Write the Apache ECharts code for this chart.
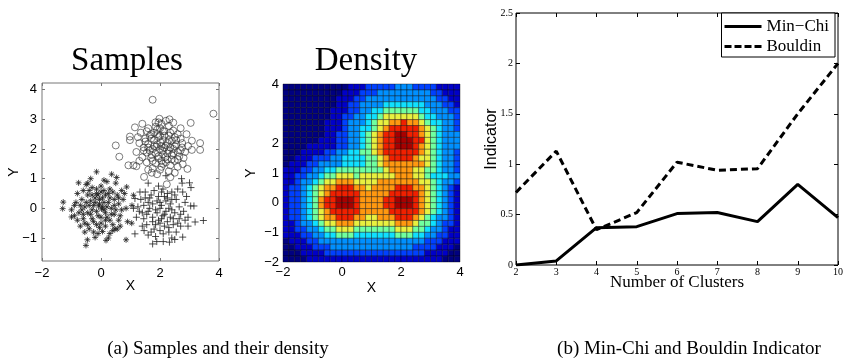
<!DOCTYPE html>
<html>
<head>
<meta charset="utf-8">
<script src="https://cdn.jsdelivr.net/npm/echarts@6/dist/echarts.min.js"></script>
<style>
  html, body { margin: 0; padding: 0; background: #fff; }
  #chart { width: 848px; height: 364px; }
</style>
</head>
<body>
<div id="chart"></div>
<script>
// ---- Samples: three clusters of 2-D points ----
const starPoints = [
  [-0.51,-1.25],[-1.28,0.21],[-1.3,-0.01],[-1.0,-0.29],[-0.9,-0.25],[-0.76,0.86],[-0.15,1.23],[0.36,1.15],
  [0.53,1.04],[0.17,-1.08],[0.85,-1.06],[0.47,-0.69],[-0.46,-1.06],[-0.4,-0.69],[1.04,-0.5],[1.1,0.44],
  [0.87,0.72],[-0.5,0.8],[0.55,0.45],[0.8,0.5],[-0.8,0.5],[-0.9,0.1],[0.9,-0.45],[1.05,0.1],[-0.2,-0.98],
  [-0.6,0.6],[-0.3,0.7],[0.0,0.75],[0.3,0.65],[-0.45,0.45],[-0.15,0.5],[0.15,0.45],[0.45,0.3],[-0.65,0.3],
  [-0.35,0.25],[-0.05,0.3],[0.25,0.2],[0.6,0.15],[-0.55,0.05],[-0.25,0.1],[0.05,0.05],[0.35,0.0],[0.7,-0.05],
  [-0.75,-0.15],[-0.45,-0.15],[-0.15,-0.1],[0.15,-0.15],[0.45,-0.2],[-0.6,-0.35],[-0.3,-0.35],[0.0,-0.3],
  [0.3,-0.4],[0.6,-0.4],[-0.45,-0.55],[-0.15,-0.55],[0.15,-0.6],[0.4,-0.55],[-0.25,-0.8],[0.05,-0.78],
  [0.3,-0.85],[-0.05,0.15],[0.1,0.2],[-0.1,-0.25],[0.2,0.05],[-0.2,0.35],[0.4,0.55],[-0.4,0.6],[0.55,-0.7],
  [-0.7,-0.6],[-0.85,0.2],[0.75,0.3],[0.65,-0.25],[-0.3,-0.05],[0.1,0.6],[0.0,-0.5],[-0.55,-0.8],[0.25,-1.0],
  [0.85,0.0],[-1.0,-0.05],[-0.35,1.0],[0.2,0.9],[-0.65,-0.05],[0.5,0.85],[0.02,-0.02],[-0.08,0.08],
  [-0.2,0.2],[0.1,-0.05],[-0.35,-0.2],[0.3,0.35],[-0.5,0.2],[0.2,-0.3],[-0.1,0.45],[0.45,0.1],[-0.6,-0.2],
  [0.05,0.35],[-0.25,-0.45],[0.35,-0.2],[-0.15,0.65],[0.5,-0.05],[-0.4,0.1],[0.0,0.55],[-0.7,0.1],[0.15,-0.4],
  [-0.05,-0.65],[0.25,0.5],[-0.3,0.45],[0.6,0.35],[-0.55,-0.5],[0.4,-0.75],[-0.8,-0.4],[0.7,0.6],[-0.1,-0.85],
  [0.1,0.95],[-0.45,0.85],[0.65,-0.6]
];
const plusPoints = [
  [1.89,-1.12],[2.11,-1.12],[2.32,-1.14],[2.11,-0.86],[2.77,-0.97],[3.04,0.08],[3.15,0.08],[3.47,-0.41],
  [3.19,-0.46],[3.0,0.86],[2.73,1.0],[2.77,0.55],[1.15,-0.86],[1.46,-0.75],[1.32,0.55],[1.15,0.33],
  [1.75,-1.2],[2.5,-1.05],[3.05,0.7],[2.95,-0.3],[1.2,-0.3],[1.1,0.0],[1.6,0.85],[2.2,1.1],[2.9,0.4],
  [1.5,0.55],[1.8,0.6],[2.1,0.65],[2.4,0.55],[1.35,0.3],[1.65,0.35],[1.95,0.4],[2.25,0.35],[2.55,0.3],
  [1.45,0.1],[1.75,0.15],[2.05,0.1],[2.35,0.15],[2.65,0.05],[1.3,-0.1],[1.6,-0.1],[1.9,-0.15],[2.2,-0.1],
  [2.5,-0.15],[2.8,-0.1],[1.45,-0.35],[1.75,-0.3],[2.05,-0.35],[2.35,-0.3],[2.65,-0.35],[1.55,-0.55],
  [1.85,-0.55],[2.15,-0.6],[2.45,-0.55],[2.7,-0.6],[1.7,-0.8],[2.0,-0.75],[2.3,-0.8],[2.55,-0.8],[1.9,0.25],
  [2.15,-0.2],[2.4,-0.05],[1.6,0.2],[2.0,-0.5],[2.25,0.5],[2.6,0.65],[1.4,-0.6],[2.85,0.2],[1.25,0.05],
  [2.95,-0.6],[1.85,-0.95],[2.4,-1.0],[2.75,0.85],[1.95,0.75],
  [1.7,0.45],[2.0,0.2],[2.3,0.0],[1.85,-0.05],[2.1,-0.25],[1.55,-0.2],[2.5,0.45],[2.2,0.25],[1.95,-0.4],
  [2.25,-0.45],[1.65,0.0],[2.45,-0.35],[1.8,-0.7],[2.6,-0.5],[2.05,0.55],[1.4,-0.15],[2.7,-0.2],[2.3,-0.65],
  [1.5,0.35],[2.4,0.3],[2.0,0.0],[1.75,-0.45],[2.15,0.4],[2.85,-0.4],[1.6,-0.9]
];
const ringPoints = [
  [3.81,3.19],[1.75,3.66],[3.04,2.88],[0.5,2.12],[0.62,1.74],[0.93,1.45],[1.46,1.06],[3.36,2.2],[3.36,1.97],
  [3.08,2.28],[3.08,1.97],[2.93,1.33],[2.77,1.49],[2.23,0.81],[1.72,1.2],[1.15,2.73],[0.98,2.42],[0.98,2.3],
  [1.98,3.02],[2.32,3.0],[2.45,2.89],[1.1,1.45],[1.2,1.42],[2.9,2.5],[2.75,2.2],[2.8,1.7],
  [1.85,2.9],[2.05,2.85],[2.3,2.78],[1.6,2.7],[1.9,2.65],[2.15,2.6],[2.45,2.62],[1.35,2.55],[1.7,2.5],
  [2.0,2.45],[2.3,2.45],[2.6,2.5],[1.5,2.35],[1.8,2.3],[2.1,2.3],[2.4,2.28],[2.7,2.35],[1.3,2.2],[1.6,2.18],
  [1.9,2.15],[2.2,2.12],[2.5,2.1],[2.75,2.05],[1.45,2.05],[1.75,2.0],[2.0,1.98],[2.3,1.95],[2.6,1.9],
  [1.55,1.88],[1.85,1.85],[2.1,1.82],[2.4,1.8],[2.65,1.75],[1.4,1.72],[1.7,1.7],[1.95,1.68],[2.25,1.65],
  [2.5,1.6],[1.55,1.55],[1.85,1.52],[2.1,1.5],[2.35,1.45],[2.6,1.4],[1.75,1.35],[2.0,1.3],[2.3,1.25],
  [1.9,1.15],[2.15,2.05],[1.95,2.4],[2.25,2.2],[1.65,1.95],[2.45,1.85],[2.05,1.6],[1.8,2.55],[2.55,2.3],
  [1.2,1.9],[1.25,2.4],[2.85,1.9],[2.0,2.7],[1.55,2.6],[2.35,1.05],[2.5,1.2],[1.3,1.6],[1.6,1.3],[2.7,2.7],
  [2.2,2.95],[1.4,2.85],[2.95,2.1],[2.1,1.95],[1.88,2.08],[2.35,2.05],[1.72,1.8],[2.18,1.72],[2.02,2.22],
  [1.8,2.1],[2.05,2.1],[2.3,2.3],[1.7,2.35],[2.15,2.45],[1.95,1.75],[2.25,1.85],[1.6,2.05],[2.45,2.0],
  [1.9,2.5],[2.1,2.6],[2.35,2.55],[1.75,1.6],[2.2,1.55],[2.55,2.15],[1.5,2.25],[1.85,2.75],[2.4,1.65],
  [2.6,1.65],[1.65,2.45],[2.05,1.4],[2.5,2.4],[1.45,1.95],[2.7,1.95],[1.95,2.9]
];

// ---- Density: 30 x 30 cells on [-2,4] x [-2,4], colour level 0..9, top row first ----
const densityRows = [
  "000000000001112222233322221111",
  "000000000011122233333333322111",
  "000000000111223333333333332211",
  "000000000112233334444444333221",
  "000000001112233445555554433322",
  "000000001122334456666665443332",
  "000000011123334566778776544332",
  "000000011123344567888887654332",
  "000000011223345678899887654333",
  "000000111223345678899988654333",
  "000011111223345678899987654333",
  "000111122334455678888887654332",
  "001112223344445567888876654332",
  "011122333344445567777777654332",
  "111223344555555556777766554332",
  "112233455666566666677766544433",
  "112334566777666677777776654332",
  "122345677888776777788877654321",
  "122345678888877777888887654321",
  "122345788999877778899987654321",
  "122345788999877778899987654321",
  "122345678888877777888887654321",
  "122345677888776677788876543321",
  "112334566777666666677765543221",
  "112233455666555555566655433211",
  "111223344555444444455544332211",
  "011122333333333333333333222111",
  "001112223333333333333322221110",
  "000111122222222222222222111100",
  "000011111111111111111111111000"
];
const densityLevelColors = ['#000080','#0000c8','#0040ff','#0090ff','#10e0ff','#70ffa0','#e8f040','#ff9810','#f02000','#a80000'];

// ---- Cluster validity indicators ----
const clusterCounts = [2, 3, 4, 5, 6, 7, 8, 9, 10];
const minChiValues  = [0.0, 0.04, 0.37, 0.38, 0.51, 0.52, 0.43, 0.80, 0.47];
const bouldinValues = [0.72, 1.13, 0.35, 0.52, 1.02, 0.94, 0.955, 1.50, 2.0];

// ---- tick label sets ----
const sampleYTicks = [-1, 0, 1, 2, 3, 4];
const densityYTicks = [-2, -1, 0, 1, 2, 4];

const SERIF = "'Liberation Serif', 'Times New Roman', serif";
const SANS = "'Liberation Sans', Arial, sans-serif";
const withMinus = v => String(v).replace('-', '\u2212');

// density cells: [left x, bottom y, level]
const CELL = 0.2;
const densityCells = [];
densityRows.forEach((row, i) => {
  const r = densityRows.length - 1 - i;
  for (let c = 0; c < row.length; c++) {
    densityCells.push([-2 + c * CELL, -2 + r * CELL, Number(row[c])]);
  }
});

const chart = echarts.init(document.getElementById('chart'));

const sansLabel = { fontFamily: SANS, fontSize: 13, color: '#000' };
const serifLabel = { fontFamily: SERIF, fontSize: 10, color: '#000' };
const noLine = { show: false, onZero: false };
const boxTick = (len, color) => ({ show: true, inside: true, length: len, lineStyle: { color: color, width: 1 } });

// legend glyphs: a solid bar and a dashed bar
const solidIcon = 'path://M0,0H37V3H0Z';
const dashedIcon = 'path://M0,0H7V3H0ZM10,0H17V3H10ZM20,0H27V3H20ZM30,0H37V3H30Z';

const option = {
  animation: false,
  backgroundColor: '#fff',
  grid: [
    { left: 42, top: 83, width: 177, height: 178, show: true, borderColor: '#777', borderWidth: 1 },
    { left: 283, top: 84, width: 177, height: 178, show: false },
    { left: 516, top: 13, width: 322, height: 252, show: true, borderColor: '#000', borderWidth: 1 }
  ],
  xAxis: [
    { gridIndex: 0, type: 'value', min: -2, max: 4, interval: 2, position: 'bottom',
      axisLine: noLine, axisTick: boxTick(3, '#777'), splitLine: { show: false },
      axisLabel: Object.assign({ margin: 6, formatter: withMinus }, sansLabel),
      name: 'X', nameLocation: 'middle', nameGap: 18, nameMoveOverlap: false,
      nameTextStyle: { fontFamily: SANS, fontSize: 14, color: '#000' } },
    { gridIndex: 0, type: 'value', min: -2, max: 4, interval: 2, position: 'top',
      axisLine: noLine, axisTick: boxTick(3, '#777'), splitLine: { show: false }, axisLabel: { show: false } },
    { gridIndex: 1, type: 'value', min: -2, max: 4, interval: 2, position: 'bottom',
      axisLine: noLine, axisTick: { show: false }, splitLine: { show: false },
      axisLabel: Object.assign({ margin: 4, formatter: withMinus }, sansLabel),
      name: 'X', nameLocation: 'middle', nameGap: 19, nameMoveOverlap: false,
      nameTextStyle: { fontFamily: SANS, fontSize: 14, color: '#000' } },
    { gridIndex: 2, type: 'value', min: 2, max: 10, interval: 1, position: 'bottom',
      axisLine: noLine, axisTick: boxTick(4, '#000'), splitLine: { show: false },
      axisLabel: Object.assign({ margin: 2 }, serifLabel),
      name: 'Number of Clusters', nameLocation: 'middle', nameGap: 9, nameMoveOverlap: false,
      nameTextStyle: { fontFamily: SERIF, fontSize: 17, color: '#000' } },
    { gridIndex: 2, type: 'value', min: 2, max: 10, interval: 1, position: 'top',
      axisLine: noLine, axisTick: boxTick(4, '#000'), splitLine: { show: false }, axisLabel: { show: false } }
  ],
  yAxis: [
    { gridIndex: 0, type: 'value', min: -1.775, max: 4.225, position: 'left',
      axisLine: noLine, axisTick: Object.assign(boxTick(3, '#777'), { customValues: sampleYTicks }),
      splitLine: { show: false },
      axisLabel: Object.assign({ margin: 5, formatter: withMinus, customValues: sampleYTicks }, sansLabel),
      name: 'Y', nameLocation: 'middle', nameGap: 21, nameRotate: 90, nameMoveOverlap: false,
      nameTextStyle: { fontFamily: SANS, fontSize: 14, color: '#000' } },
    { gridIndex: 0, type: 'value', min: -1.775, max: 4.225, position: 'right',
      axisLine: noLine, axisTick: Object.assign(boxTick(3, '#777'), { customValues: sampleYTicks }),
      splitLine: { show: false }, axisLabel: { show: false } },
    { gridIndex: 1, type: 'value', min: -2, max: 4, position: 'left',
      axisLine: noLine, axisTick: { show: false }, splitLine: { show: false },
      axisLabel: Object.assign({ margin: 4, formatter: withMinus, customValues: densityYTicks }, sansLabel),
      name: 'Y', nameLocation: 'middle', nameGap: 25, nameRotate: 90, nameMoveOverlap: false,
      nameTextStyle: { fontFamily: SANS, fontSize: 14, color: '#000' } },
    { gridIndex: 2, type: 'value', min: 0, max: 2.5, interval: 0.5, position: 'left',
      axisLine: noLine, axisTick: boxTick(4, '#000'), splitLine: { show: false },
      axisLabel: Object.assign({ margin: 3 }, serifLabel),
      name: 'Indicator', nameLocation: 'middle', nameGap: 16, nameRotate: 90, nameMoveOverlap: false,
      nameTextStyle: { fontFamily: SANS, fontSize: 16, color: '#000' } },
    { gridIndex: 2, type: 'value', min: 0, max: 2.5, interval: 0.5, position: 'right',
      axisLine: noLine, axisTick: boxTick(4, '#000'), splitLine: { show: false }, axisLabel: { show: false } }
  ],
  visualMap: {
    show: false, type: 'continuous', min: 0, max: 9, dimension: 2, seriesIndex: 3,
    inRange: { color: densityLevelColors }
  },
  legend: {
    data: [{ name: 'Min\u2212Chi', icon: solidIcon }, { name: 'Bouldin', icon: dashedIcon }],
    orient: 'vertical', right: 13, top: 13,
    itemWidth: 37, itemHeight: 14, itemGap: 3,
    padding: [5, 6, 2, 3],
    borderColor: '#000', borderWidth: 1, backgroundColor: '#fff',
    textStyle: { fontFamily: SERIF, fontSize: 17, color: '#000' }
  },
  series: [
    { type: 'scatter', xAxisIndex: 0, yAxisIndex: 0, data: starPoints,
      symbol: 'path://M5,0L5,10M0,5L10,5M1.5,1.5L8.5,8.5M1.5,8.5L8.5,1.5', symbolSize: 6,
      itemStyle: { color: 'none', borderColor: '#222', borderWidth: 1 }, silent: true },
    { type: 'scatter', xAxisIndex: 0, yAxisIndex: 0, data: plusPoints,
      symbol: 'path://M5,0L5,10M0,5L10,5', symbolSize: 7,
      itemStyle: { color: 'none', borderColor: '#222', borderWidth: 1 }, silent: true },
    { type: 'scatter', xAxisIndex: 0, yAxisIndex: 0, data: ringPoints,
      symbol: 'circle', symbolSize: 7,
      itemStyle: { color: 'rgba(0,0,0,0)', borderColor: '#333', borderWidth: 0.8 }, silent: true },
    { type: 'custom', xAxisIndex: 2, yAxisIndex: 2, data: densityCells, silent: true,
      encode: { x: 0, y: 1 },
      renderItem: function (params, api) {
        const x0 = api.value(0), y0 = api.value(1);
        const topLeft = api.coord([x0, y0 + CELL]);
        const bottomRight = api.coord([x0 + CELL, y0]);
        return {
          type: 'rect',
          shape: { x: topLeft[0], y: topLeft[1], width: bottomRight[0] - topLeft[0], height: bottomRight[1] - topLeft[1] },
          style: { fill: api.visual('color'), stroke: 'rgba(0,0,0,0.55)', lineWidth: 0.7 }
        };
      } },
    { type: 'line', name: 'Min\u2212Chi', xAxisIndex: 3, yAxisIndex: 3,
      data: clusterCounts.map((k, i) => [k, minChiValues[i]]),
      symbol: 'none', lineStyle: { color: '#000', width: 3 }, itemStyle: { color: '#000' } },
    { type: 'line', name: 'Bouldin', xAxisIndex: 3, yAxisIndex: 3,
      data: clusterCounts.map((k, i) => [k, bouldinValues[i]]),
      symbol: 'none', lineStyle: { color: '#000', width: 3, type: [7, 4] }, itemStyle: { color: '#000' } }
  ],
  graphic: [
    { type: 'text', x: 127, y: 61, style: { text: 'Samples', font: "33px 'Liberation Serif', serif", fill: '#000', align: 'center', verticalAlign: 'middle' } },
    { type: 'text', x: 366, y: 61, style: { text: 'Density', font: "33px 'Liberation Serif', serif", fill: '#000', align: 'center', verticalAlign: 'middle' } },
    { type: 'text', x: 218, y: 349, style: { text: '(a) Samples and their density', font: "19px 'Liberation Serif', serif", fill: '#000', align: 'center', verticalAlign: 'middle' } },
    { type: 'text', x: 689, y: 349, style: { text: '(b) Min-Chi and Bouldin Indicator', font: "19px 'Liberation Serif', serif", fill: '#000', align: 'center', verticalAlign: 'middle' } }
  ]
};

chart.setOption(option);
</script>
</body>
</html>
